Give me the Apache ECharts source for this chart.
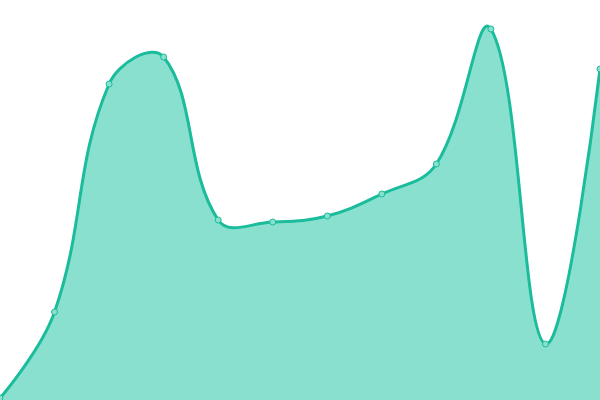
<!DOCTYPE html>
<html><head><meta charset="utf-8">
<script src="https://cdn.jsdelivr.net/npm/echarts@6/dist/echarts.min.js"></script>
<style>html,body{margin:0;padding:0;background:#fff}#c{width:600px;height:400px}</style>
</head><body><div id="c"></div>
<script>
const categories = ['1','2','3','4','5','6','7','8','9','10','11','12'];
const values = [2, 88, 316, 343, 180, 178, 184, 206, 236, 371, 56, 331];
const SMOOTH = 0.4;

function bezierControls(points, smooth, cmin, cmax) {
  const cps = [];
  const n = points.length;
  for (let i = 0; i < n; i++) {
    const p = points[i];
    if (i === 0 || i === n - 1) { cps.push([p[0], p[1]]); continue; }
    const prev = points[i - 1], next = points[i + 1];
    const vx = (next[0] - prev[0]) * smooth, vy = (next[1] - prev[1]) * smooth;
    let d0 = Math.hypot(p[0] - prev[0], p[1] - prev[1]);
    let d1 = Math.hypot(p[0] - next[0], p[1] - next[1]);
    const sum = d0 + d1;
    if (sum !== 0) { d0 /= sum; d1 /= sum; }
    const c0 = [p[0] - vx * d0, p[1] - vy * d0];
    const c1 = [p[0] + vx * d1, p[1] + vy * d1];
    [c0, c1].forEach(c => {
      c[0] = Math.min(Math.max(c[0], cmin[0]), cmax[0]);
      c[1] = Math.min(Math.max(c[1], cmin[1]), cmax[1]);
    });
    cps.push(c0, c1);
  }
  return cps;
}

function renderCurve(params, api) {
  if (params.dataIndex !== 0) return null;
  const pts = values.map((v, i) => api.coord([i, v]));
  const cs = params.coordSys;
  const cps = bezierControls(pts, SMOOTH, [cs.x, cs.y], [cs.x + cs.width, cs.y + cs.height]);
  let d = 'M' + pts[0][0] + ' ' + pts[0][1];
  for (let i = 0; i < pts.length - 1; i++) {
    const a = cps[2 * i], b = cps[2 * i + 1], e = pts[i + 1];
    d += ' C' + a[0] + ' ' + a[1] + ' ' + b[0] + ' ' + b[1] + ' ' + e[0] + ' ' + e[1];
  }
  const base = api.coord([0, 0])[1];
  const last = pts[pts.length - 1];
  const area = d + ' L' + last[0] + ' ' + base + ' L' + pts[0][0] + ' ' + base + ' Z';
  return {
    type: 'group',
    children: [
      {type: 'path', shape: {pathData: area}, style: {fill: '#8ae0cf', stroke: null}},
      {type: 'path', shape: {pathData: d}, style: {fill: null, stroke: '#1abc9c', lineWidth: 3}}
    ]
  };
}

const chart = echarts.init(document.getElementById('c'));
chart.setOption({
  animation: false,
  grid: {left: 0, right: 0, top: 0, bottom: 0},
  xAxis: {type: 'category', data: categories, boundaryGap: false, show: false},
  yAxis: {type: 'value', min: 0, max: 400, show: false},
  series: [{
    type: 'custom',
    renderItem: renderCurve,
    data: values.map((v, i) => [i, v]),
    encode: {x: 0, y: 1},
    clip: true,
    z: 1
  }, {
    type: 'line',
    data: values,
    symbol: 'circle',
    symbolSize: 6,
    lineStyle: {opacity: 0},
    itemStyle: {color: '#8ae0cf', borderColor: '#1abc9c', borderWidth: 1},
    z: 3
  }]
});
</script></body></html>
